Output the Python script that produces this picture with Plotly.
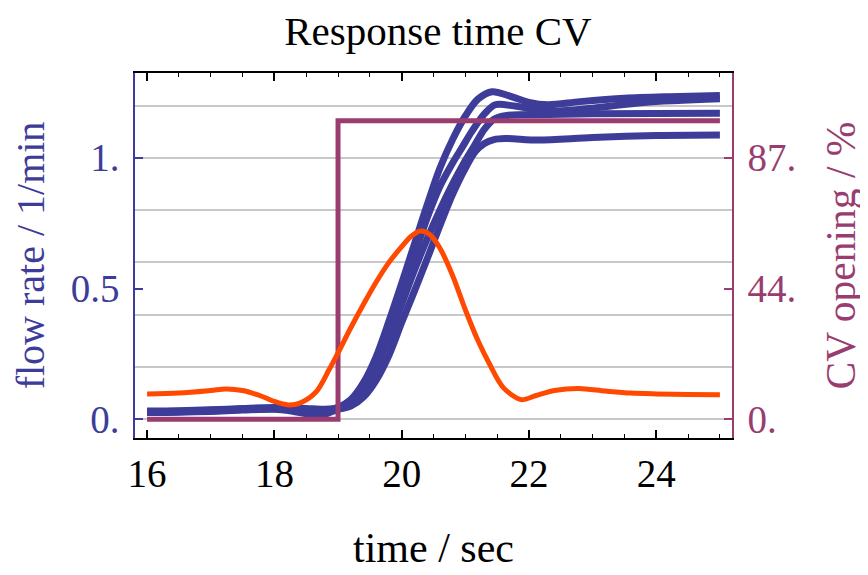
import plotly.graph_objects as go

# ---------------- data ----------------
t_pre = [16.0, 16.5, 17.0, 17.5, 18.0, 18.3, 18.6, 18.8, 19.0]
flow1_pre = [0.032, 0.033, 0.036, 0.041, 0.045, 0.044, 0.040, 0.038, 0.045]
flow2_pre = [0.030, 0.031, 0.034, 0.039, 0.043, 0.040, 0.033, 0.032, 0.045]
flow3_pre = [0.028, 0.029, 0.032, 0.037, 0.040, 0.035, 0.025, 0.026, 0.042]
flow4_pre = [0.026, 0.027, 0.030, 0.035, 0.038, 0.030, 0.018, 0.020, 0.038]

t1 = [19.2, 19.4, 19.6, 19.8, 20.0, 20.2, 20.4, 20.6, 20.8, 21.0, 21.2, 21.42, 21.7, 22.0, 22.3, 22.8, 23.5, 24.2, 25.0]
flow1 = [0.075, 0.14, 0.24, 0.375, 0.52, 0.67, 0.82, 0.96, 1.07, 1.16, 1.225, 1.253, 1.236, 1.212, 1.203, 1.215, 1.228, 1.234, 1.238]

t2 = [19.2, 19.4, 19.6, 19.8, 20.0, 20.2, 20.4, 20.6, 20.8, 20.95, 21.1, 21.3, 21.47, 21.8, 22.35, 23.0, 23.8, 25.0]
flow2 = [0.07, 0.125, 0.22, 0.35, 0.49, 0.63, 0.77, 0.89, 0.98, 1.04, 1.10, 1.168, 1.203, 1.197, 1.179, 1.19, 1.212, 1.226]

t3 = [19.2, 19.4, 19.6, 19.8, 20.0, 20.2, 20.4, 20.6, 20.8, 21.0, 21.15, 21.3, 21.45, 21.65, 22.3, 23.0, 25.0]
flow3 = [0.065, 0.115, 0.20, 0.31, 0.44, 0.57, 0.69, 0.80, 0.90, 0.99, 1.05, 1.11, 1.148, 1.162, 1.166, 1.169, 1.171]

t4 = [19.2, 19.4, 19.6, 19.8, 20.0, 20.2, 20.43, 20.6, 20.8, 21.0, 21.16, 21.3, 21.45, 21.63, 22.15, 23.0, 24.0, 25.0]
flow4 = [0.05, 0.085, 0.15, 0.245, 0.37, 0.49, 0.632, 0.74, 0.86, 0.96, 1.025, 1.055, 1.07, 1.074, 1.068, 1.078, 1.085, 1.087]

t_orange = [16.0, 16.5, 17.0, 17.24, 17.5, 17.8, 18.0, 18.22, 18.4, 18.65, 18.86, 19.0, 19.2, 19.4, 19.6, 19.8, 20.0, 20.15,
            20.3, 20.45, 20.6, 20.8, 21.0, 21.2, 21.37, 21.6, 21.88, 22.1, 22.4, 22.78, 23.2, 23.6, 24.0, 24.5, 25.0]
signal_orange = [0.097, 0.100, 0.110, 0.116, 0.110, 0.088, 0.068, 0.055, 0.062, 0.103, 0.19, 0.254, 0.35, 0.44, 0.525, 0.60, 0.66, 0.70,
                 0.72, 0.705, 0.655, 0.55, 0.419, 0.30, 0.216, 0.12, 0.075, 0.09, 0.11, 0.118, 0.108, 0.100, 0.097, 0.095, 0.094]

t_cv = [16.0, 19.0, 19.0, 25.0]
cv_opening = [0.0, 0.0, 99.3, 99.3]

x_ticks = [16, 18, 20, 22, 24]
x_grid = [18, 20, 22, 24]
y_ticks = [0, 0.5, 1.0]
y_ticktext = ["0.", "0.5", "1."]
y_grid = [0, 0.2, 0.4, 0.6, 0.8, 1.0, 1.2]
cv_ticks = [0, 43.5, 87]
cv_ticktext = ["0.", "44.", "87."]
cv_scale = 87.0

# ---------------- style ----------------
BLUE = "rgb(61,61,153)"
MAG = "rgb(153,61,112)"
ORANGE = "rgb(255,72,0)"
GRID = "rgb(200,200,200)"
FONT = "Liberation Serif"
XR = [15.81, 25.19]
YR = [-0.0717, 1.3245]

fig = go.Figure()

for tp, fp, tt, ff in [(t_pre, flow1_pre, t1, flow1), (t_pre, flow2_pre, t2, flow2),
                       (t_pre, flow3_pre, t3, flow3), (t_pre, flow4_pre, t4, flow4)]:
    fig.add_trace(go.Scatter(x=tp + tt, y=fp + ff, mode="lines", yaxis="y",
                             line=dict(color=BLUE, width=7, shape="spline", smoothing=0.9),
                             showlegend=False, hoverinfo="skip"))

fig.add_trace(go.Scatter(x=t_cv, y=cv_opening, mode="lines", yaxis="y2",
                         line=dict(color=MAG, width=5), showlegend=False, hoverinfo="skip"))

fig.add_trace(go.Scatter(x=t_orange, y=signal_orange, mode="lines", yaxis="y3",
                         line=dict(color=ORANGE, width=5, shape="spline", smoothing=0.9),
                         showlegend=False, hoverinfo="skip"))

fig.update_layout(
    width=860, height=567,
    margin=dict(l=127, r=134, t=65, b=132),
    paper_bgcolor="white", plot_bgcolor="white",
    font=dict(family=FONT, size=39, color="black"),
    title=dict(text="Response time CV", x=0.5, xanchor="center", y=0.960, yanchor="middle",
               yref="container", font=dict(family=FONT, size=41, color="black")),
    xaxis=dict(range=XR, tickmode="array", tickvals=x_ticks, showgrid=False, zeroline=False,
               ticks="inside", ticklen=8, tickwidth=1.5, tickcolor="black",
               minor=dict(dtick=0.5, tick0=16, ticks="inside", ticklen=4, tickwidth=1.2, tickcolor="black", showgrid=False),
               showline=True, linecolor="black", linewidth=1.5, mirror="ticks",
               tickfont=dict(family=FONT, size=39, color="black"),
               title=dict(text="time / sec", font=dict(family=FONT, size=42, color="black"), standoff=39)),
    xaxis2=dict(range=XR, overlaying="x", anchor="y", tickmode="array", tickvals=x_grid,
                showgrid=True, gridcolor=GRID, gridwidth=1.5, showticklabels=False, ticks="",
                showline=False, zeroline=False),
    yaxis=dict(range=YR, tickmode="array", tickvals=y_ticks, ticktext=y_ticktext, showgrid=False, zeroline=False,
               ticks="inside", ticklen=8, tickwidth=1.5, tickcolor=BLUE,
               showline=True, linecolor=BLUE, linewidth=1.5, ticklabelstandoff=6,
               tickfont=dict(family=FONT, size=39, color=BLUE),
               title=dict(text="flow rate / 1/min", font=dict(family=FONT, size=40, color=BLUE), standoff=17)),
    yaxis2=dict(range=[YR[0] * cv_scale, YR[1] * cv_scale], overlaying="y", side="right", anchor="x",
                tickmode="array", tickvals=cv_ticks, ticktext=cv_ticktext, showgrid=False, zeroline=False,
                ticks="inside", ticklen=8, tickwidth=1.5, tickcolor=MAG,
                showline=True, linecolor=MAG, linewidth=1.5, ticklabelstandoff=6,
                tickfont=dict(family=FONT, size=39, color=MAG),
                title=dict(text="CV opening / %", font=dict(family=FONT, size=41.5, color=MAG), standoff=31)),
    yaxis3=dict(range=YR, overlaying="y", anchor="x", tickmode="array", tickvals=y_grid,
                showgrid=True, gridcolor=GRID, gridwidth=1.5, showticklabels=False, ticks="",
                showline=False, zeroline=False),
)

fig.write_html("out.html")
